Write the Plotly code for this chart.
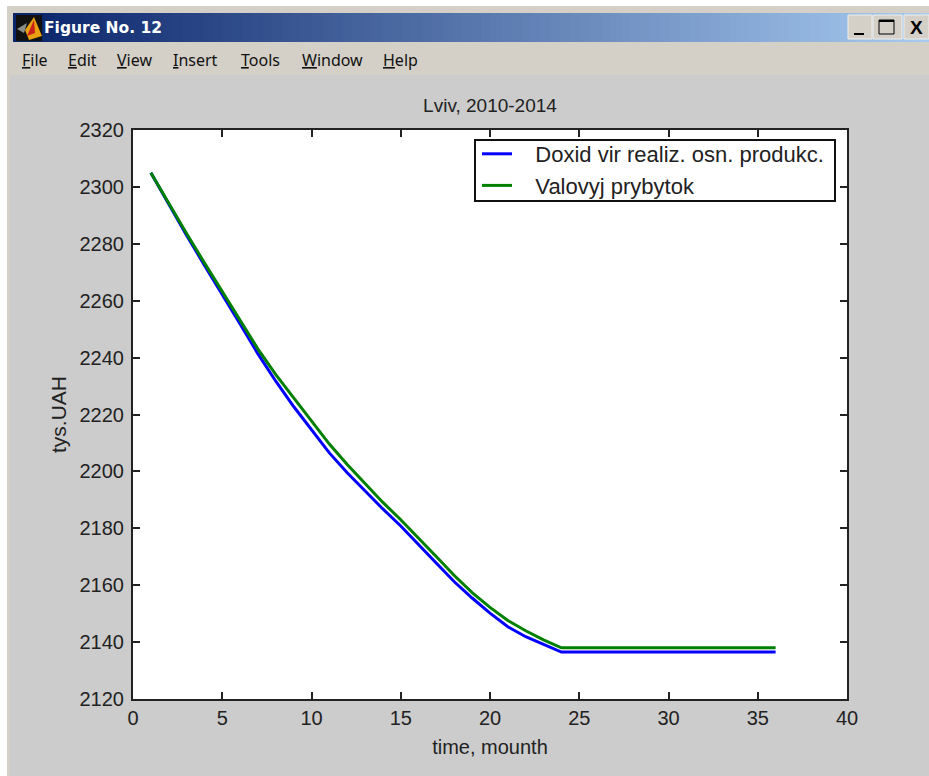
import plotly.graph_objects as go

months = list(range(1, 37))
doxid = [2305, 2293.8, 2283, 2272.5, 2262.3, 2251.8, 2241.3, 2231.7, 2222.8, 2214.5, 2206.5, 2199.5,
         2193, 2186.8, 2180.8, 2174.4, 2167.7, 2161.2, 2155.5, 2150.2, 2145.4, 2141.9, 2139.2, 2136.5,
         2136.5, 2136.5, 2136.5, 2136.5, 2136.5, 2136.5, 2136.5, 2136.5, 2136.5, 2136.5, 2136.5, 2136.5]
valovyj = [2305, 2294.2, 2283.6, 2273.3, 2263.3, 2253.2, 2243, 2234, 2225.8, 2217.5, 2209.6, 2202.4,
           2195.6, 2189.1, 2183, 2176.6, 2170, 2163.4, 2157.4, 2152.2, 2147.6, 2144, 2140.8, 2138,
           2138, 2138, 2138, 2138, 2138, 2138, 2138, 2138, 2138, 2138, 2138, 2138]
x_ticks = [0, 5, 10, 15, 20, 25, 30, 35, 40]
y_ticks = list(range(2120, 2321, 20))
menu_labels = ["<u>F</u>ile", "<u>E</u>dit", "<u>V</u>iew", "<u>I</u>nsert", "<u>T</u>ools", "<u>W</u>indow", "<u>H</u>elp"]
menu_left = [20, 66, 115, 171, 239, 300, 381]

W, H = 929, 776
L, R, T, B = 133, 847, 130, 699
FONT = "Liberation Sans"
TXT = "#222222"

def px(v):
    return (v - L) / (R - L)

def py(v):
    return (B - v) / (B - T)

shapes, annots = [], []

def rect(x0, y0, x1, y1, fill, line=None, layer="below", lw=1):
    shapes.append(dict(type="rect", xref="paper", yref="paper", x0=px(x0), x1=px(x1), y0=py(y0), y1=py(y1),
                       fillcolor=fill, line=dict(width=lw if line else 0, color=line or fill), layer=layer))

def label(x, y, text, size, color=TXT, anchor="left", family=FONT, angle=0):
    annots.append(dict(xref="paper", yref="paper", x=px(x), y=py(y), text=text, showarrow=False,
                       xanchor=anchor, yanchor="middle", textangle=angle, font=dict(size=size, color=color, family=family)))

# window chrome
rect(0, 0, W, 6, "#ffffff")
rect(0, 0, 7, H, "#ffffff")
rect(7, 6, W, 13, "#d4d0c8")
rect(7, 6, 10, H, "#d4d0c8")
rect(10, 13, W, 75, "#d4d0c8")
steps = 92
for i in range(steps):
    t = i / (steps - 1)
    c = "rgb(%d,%d,%d)" % (10 + 156 * t, 36 + 166 * t, 106 + 134 * t)
    rect(13 + (W - 13) * i / steps, 13, 13 + (W - 13) * (i + 1) / steps + 1, 42, c)
# icon
rect(16, 15, 42, 41, "#111111")
shapes.append(dict(type="path", xref="paper", yref="paper", layer="below", fillcolor="#e8a010", line=dict(width=0),
                   path="M %f %f L %f %f L %f %f L %f %f Z" % (px(34), py(17), px(42), py(36), px(29), py(40), px(25), py(30))))
shapes.append(dict(type="path", xref="paper", yref="paper", layer="below", fillcolor="#c8201a", line=dict(width=0),
                   path="M %f %f L %f %f L %f %f Z" % (px(34), py(20), px(35), py(33), px(27), py(36))))
shapes.append(dict(type="path", xref="paper", yref="paper", layer="below", fillcolor="#8a8f8a", line=dict(width=0),
                   path="M %f %f L %f %f L %f %f Z" % (px(17), py(29), px(27), py(23), px(24), py(33))))
# window buttons
for x0, x1 in [(848, 872), (873, 902), (904, 929)]:
    rect(x0, 15, x1, 39, "#d4d0c8", "#f0eee8")
rect(854, 33, 864, 35, "#000000")
rect(879, 20, 894, 34, "#d4d0c8", "#000000")
rect(879, 20, 894, 22, "#000000")
label(916, 27, "<b>X</b>", 19, "#000000", "center")
label(42, 28, "<b>Figure No. 12</b>", 15.5, "#ffffff", family="DejaVu Sans")
for text, x in zip(menu_labels, menu_left):
    label(x, 60, text, 16, "#111111", family="Noto Sans")
# legend frame
rect(475, 140, 835, 201, "#ffffff", "#111111", layer="above", lw=2)

fig = go.Figure()
fig.add_trace(go.Scatter(x=months, y=doxid, mode="lines", name="\u00a0\u00a0\u00a0Doxid vir realiz. osn. produkc.",
                         line=dict(color="#0000ff", width=3)))
fig.add_trace(go.Scatter(x=months, y=valovyj, mode="lines", name="\u00a0\u00a0\u00a0Valovyj prybytok",
                         line=dict(color="#008000", width=3)))

axis = dict(showgrid=False, zeroline=False, showline=True, linecolor="#222222", linewidth=2,
            mirror="ticks", ticks="inside", ticklen=7, tickwidth=1.5, tickcolor="#222222",
            tickfont=dict(size=20, color=TXT, family=FONT))

fig.update_layout(
    width=W, height=H, autosize=False,
    margin=dict(l=L, r=W - R, t=T, b=H - B, pad=0),
    paper_bgcolor="#cccccc", plot_bgcolor="#ffffff",
    font=dict(family=FONT, color=TXT),
    title=dict(text="Lviv, 2010-2014", x=(L + R) / 2 / W, xanchor="center", y=1 - 105 / H, yanchor="middle",
               font=dict(size=19, color=TXT, family=FONT)),
    xaxis=dict(axis, range=[0, 40], tickvals=x_ticks, ticktext=[str(v) for v in x_ticks],
               title=dict(text="time, mounth", font=dict(size=20, color=TXT, family=FONT), standoff=12)),
    yaxis=dict(axis, range=[2120, 2320], tickvals=y_ticks, ticktext=[str(v) for v in y_ticks], ticklabelstandoff=3,
               title=dict(text="tys.UAH", font=dict(size=21, color=TXT, family=FONT), standoff=7)),
    legend=dict(x=(477 - L) / (R - L), y=1 - (133 - T) / (B - T), xanchor="left", yanchor="top",
                bgcolor="rgba(0,0,0,0)", borderwidth=0,
                font=dict(size=22, color=TXT, family=FONT), tracegroupgap=0),
    shapes=shapes, annotations=annots,
)
fig.write_html("out.html", config={"displayModeBar": False},
               post_script="document.body.style.margin='0';document.body.style.overflow='hidden';")
